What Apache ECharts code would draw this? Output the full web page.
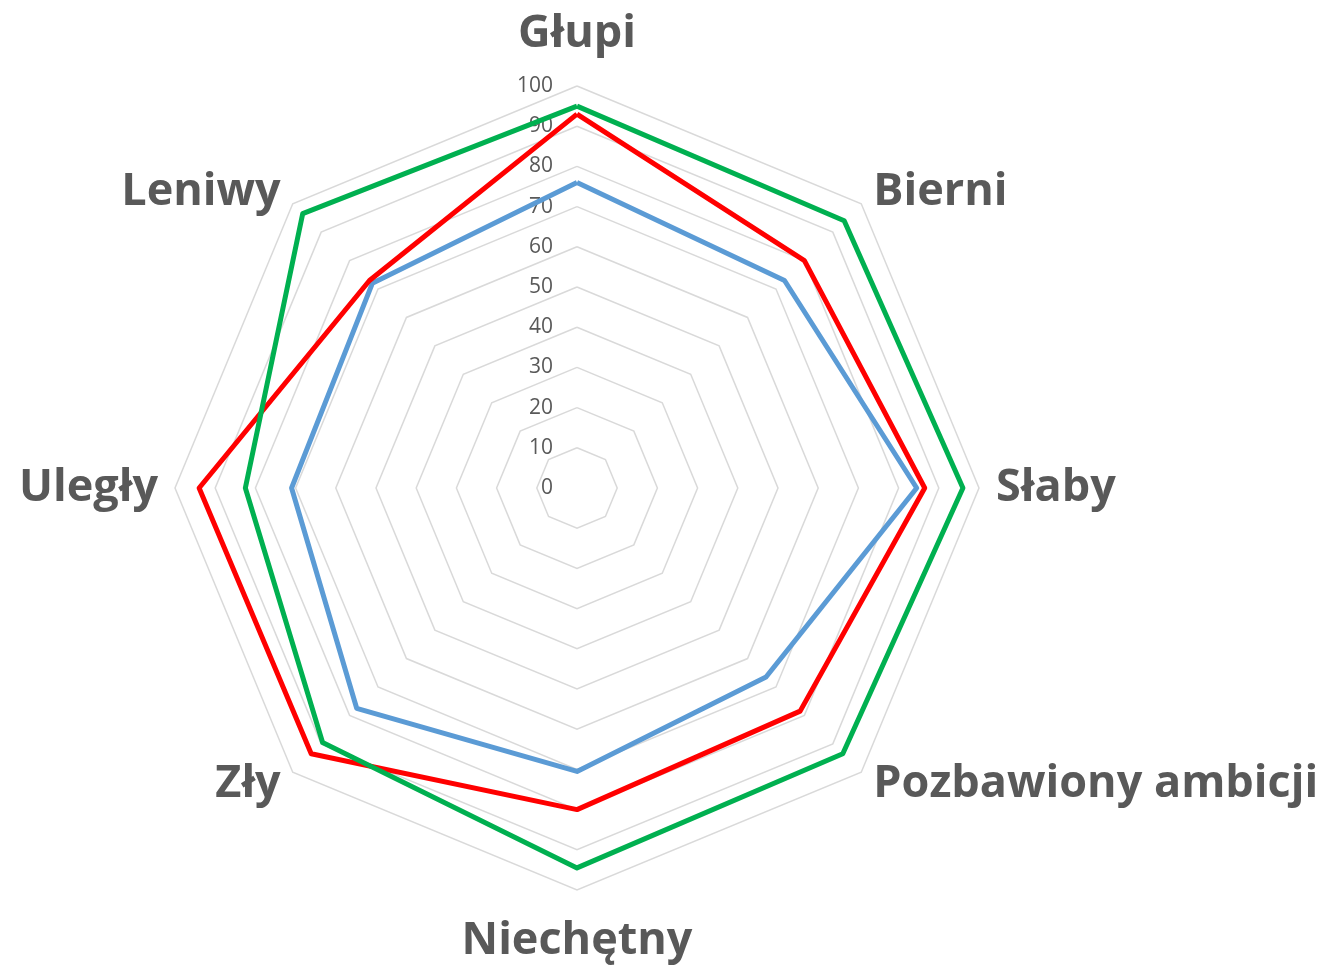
<!DOCTYPE html>
<html>
<head>
<meta charset="utf-8">
<script src="https://cdn.jsdelivr.net/npm/echarts@6/dist/echarts.min.js"></script>
<style>
html,body{margin:0;padding:0;background:#fff;}
#chart{width:1322px;height:966px;}
</style>
</head>
<body>
<div id="chart"></div>
<script>
// Categories in clockwise order starting from the top
const categories = ['Głupi', 'Bierni', 'Słaby', 'Pozbawiony ambicji', 'Niechętny', 'Zły', 'Uległy', 'Leniwy'];
const blueValues  = [76, 73, 84.5, 66.5, 70.5, 77.5, 71, 72];
const redValues   = [93, 80, 86.5, 78.5, 80, 93.5, 94, 73];
const greenValues = [95, 94, 96, 93.5, 94.5, 89.5, 82.5, 96.5];
const axisMin = 0;
const axisMax = 100;

// ECharts places radar indicators counter-clockwise; reorder so the picture runs clockwise
const order = [0, 7, 6, 5, 4, 3, 2, 1];
const reorder = arr => order.map(i => arr[i]);

const indicator = order.map((i, k) => {
  const ind = { name: categories[i], min: axisMin, max: axisMax };
  if (k === 0) {
    ind.axisLabel = { show: true, color: '#595959', fontSize: 21, margin: 24, fontFamily: 'Open Sans' };
    ind.nameGap = 29;
  }
  if (i === 4) {
    ind.nameGap = 29;
  }
  return ind;
});

const chart = echarts.init(document.getElementById('chart'));
chart.setOption({
  backgroundColor: '#ffffff',
  animation: false,
  radar: {
    center: [577, 488],
    radius: 402,
    startAngle: 90,
    splitNumber: 10,
    shape: 'polygon',
    nameGap: 17,
    axisName: { color: '#595959', fontFamily: 'Open Sans', fontWeight: 'bold', fontSize: 45 },
    splitLine: { lineStyle: { color: '#d9d9d9', width: 1.5 } },
    splitArea: { show: false },
    axisLine: { show: false },
    axisTick: { show: false },
    axisLabel: { show: false },
    indicator: indicator
  },
  series: [{
    type: 'radar',
    symbol: 'none',
    data: [
      { value: reorder(blueValues),  lineStyle: { color: '#5b9bd5', width: 5 } },
      { value: reorder(redValues),   lineStyle: { color: '#ff0000', width: 5 } },
      { value: reorder(greenValues), lineStyle: { color: '#00b050', width: 5 } }
    ]
  }]
});
</script>
</body>
</html>
